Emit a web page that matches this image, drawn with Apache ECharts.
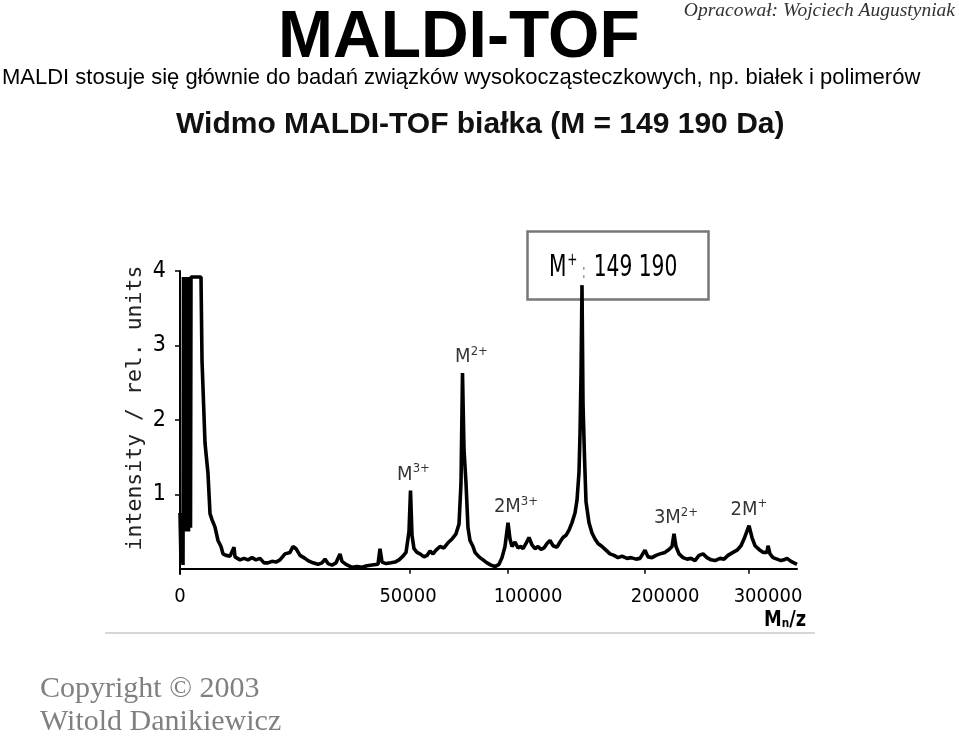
<!DOCTYPE html>
<html>
<head>
<meta charset="utf-8">
<script src="https://cdn.jsdelivr.net/npm/echarts@6/dist/echarts.min.js"></script>
<style>
  html, body { margin: 0; padding: 0; background: #fff; }
  #chart { width: 959px; height: 742px; }
</style>
</head>
<body>
<div id="chart"></div>
<script>
// flight time (arbitrary channels) vs. relative intensity
const flightTime = [0, 1, 2, 3, 3.5, 4.5, 5.5, 6.5, 7.5, 8.5, 9.5, 10.5, 11, 21, 22, 25, 28, 30, 32, 35, 38, 41, 43, 46, 50, 54, 55, 60, 64, 68, 72, 76, 80, 84, 88, 92, 96, 100, 105, 110, 113, 116, 120, 125, 128, 133, 138, 142, 145, 148, 152, 156, 160, 162, 166, 172, 177, 182, 187, 192, 198, 200, 202, 206, 211, 215, 219, 223, 226, 229, 230.5, 232, 234, 237, 240, 244, 247, 250, 253, 256, 260, 264, 268, 272, 276, 279, 281, 282.5, 284, 286, 288, 290, 293, 295, 299, 303, 307, 311, 315, 319, 322, 325, 328, 330, 332, 335, 338, 341, 343, 346, 349, 352, 355, 358, 361, 364, 367, 370, 373, 375, 377, 380, 383, 386, 389, 392, 395, 397, 399, 400, 401, 402, 403, 404.5, 406, 409, 412, 415, 418, 422, 426, 430, 434, 438, 442, 447, 451, 456, 460, 465, 468, 472, 476, 480, 485, 489, 492, 494, 496, 499, 503, 507, 511, 515, 519, 523, 527, 531, 535, 540, 544, 548, 553, 557, 561, 564, 569, 572, 575, 579, 583, 587, 588, 590, 593, 597, 601, 604, 607, 611, 614, 617];
const intensity = [0.75, 0.08, 0.7, 0.05, 3.92, 0.5, 3.92, 0.5, 3.92, 0.5, 3.92, 0.55, 3.92, 3.92, 2.8, 1.69, 1.28, 0.74, 0.66, 0.56, 0.38, 0.3, 0.2, 0.18, 0.17, 0.29, 0.16, 0.12, 0.14, 0.12, 0.15, 0.12, 0.14, 0.08, 0.08, 0.1, 0.09, 0.12, 0.2, 0.22, 0.3, 0.27, 0.18, 0.14, 0.11, 0.08, 0.06, 0.08, 0.13, 0.07, 0.05, 0.08, 0.2, 0.1, 0.06, 0.02, 0.03, 0.02, 0.04, 0.05, 0.06, 0.27, 0.09, 0.07, 0.08, 0.09, 0.12, 0.17, 0.22, 0.5, 1.05, 0.45, 0.27, 0.22, 0.2, 0.16, 0.18, 0.24, 0.2, 0.25, 0.3, 0.28, 0.35, 0.4, 0.47, 0.6, 1.15, 2.63, 1.6, 1.15, 0.55, 0.38, 0.3, 0.22, 0.16, 0.12, 0.08, 0.05, 0.03, 0.06, 0.15, 0.3, 0.62, 0.4, 0.3, 0.36, 0.28, 0.3, 0.27, 0.34, 0.42, 0.32, 0.27, 0.3, 0.26, 0.28, 0.34, 0.38, 0.31, 0.33, 0.29, 0.36, 0.42, 0.45, 0.52, 0.62, 0.75, 0.92, 1.3, 1.8, 2.6, 3.81, 2.22, 1.5, 0.9, 0.62, 0.48, 0.4, 0.34, 0.3, 0.25, 0.2, 0.18, 0.15, 0.17, 0.14, 0.15, 0.13, 0.14, 0.25, 0.16, 0.15, 0.18, 0.2, 0.22, 0.26, 0.3, 0.47, 0.3, 0.2, 0.15, 0.13, 0.14, 0.11, 0.18, 0.2, 0.15, 0.12, 0.11, 0.14, 0.13, 0.18, 0.22, 0.25, 0.31, 0.4, 0.58, 0.42, 0.31, 0.26, 0.22, 0.22, 0.31, 0.2, 0.15, 0.13, 0.11, 0.12, 0.14, 0.1, 0.08, 0.06];

// peaks and their names
const peakTime = [230.5, 282.5, 328, 402, 494, 569];
const peakIntensity = [1.05, 2.63, 0.62, 3.81, 0.47, 0.58];
const peakName = ['M|3+', 'M|2+', '2M|3+', '', '3M|2+', '2M|+'];
const peakLabelShift = [3, 9, 8, 0, 2, 0];

// axis ticks
const xTickPos = [230, 328, 465, 569];
const xLabelPos = [0, 228, 348, 485, 588];
const xLabelText = ['0', '50000', '100000', '200000', '300000'];
const yTicks = [1, 2, 3, 4];

const narrow = "'DejaVu Sans Condensed', 'Liberation Sans', sans-serif";

const chart = echarts.init(document.getElementById('chart'));

const option = {
  animation: false,
  backgroundColor: '#fff',
  grid: { left: 180, right: 162, top: 271, bottom: 168 },
  xAxis: {
    type: 'value',
    min: 0,
    max: 617,
    axisLine: { lineStyle: { color: '#000', width: 2 } },
    axisTick: { customValues: xTickPos, length: 5, lineStyle: { color: '#000', width: 1.5 } },
    axisLabel: {
      customValues: xLabelPos,
      margin: 13,
      color: '#000',
      fontFamily: narrow,
      fontSize: 20,
      formatter: (v) => xLabelText[xLabelPos.indexOf(v)]
    },
    splitLine: { show: false }
  },
  yAxis: {
    type: 'value',
    min: -0.07,
    max: 4,
    axisLine: { show: true, lineStyle: { color: '#000', width: 2 } },
    axisTick: { show: true, customValues: yTicks, length: 5, lineStyle: { color: '#000', width: 1.5 } },
    axisLabel: { customValues: yTicks, margin: 14, color: '#000', fontFamily: narrow, fontSize: 23 },
    splitLine: { show: false }
  },
  series: [
    {
      type: 'line',
      data: flightTime.map((t, i) => [t, intensity[i]]),
      showSymbol: false,
      lineStyle: { color: '#000', width: 3.6 }
    },
    {
      type: 'scatter',
      symbolSize: 0,
      data: peakTime.map((t, i) => ({
        value: [t, peakIntensity[i]],
        label: { offset: [peakLabelShift[i], 0] }
      })),
      label: {
        show: true,
        position: 'top',
        distance: 6,
        formatter: (p) => {
          const s = peakName[p.dataIndex];
          if (!s) return '';
          const [a, b] = s.split('|');
          return '{m|' + a + '}{s|' + b + '}';
        },
        rich: {
          m: { fontFamily: narrow, fontSize: 20, color: '#000', lineHeight: 22, verticalAlign: 'bottom' },
          s: { fontFamily: narrow, fontSize: 13, color: '#000', lineHeight: 13, verticalAlign: 'top' }
        }
      }
    }
  ],
  graphic: [
    {
      type: 'text', left: 278, top: 6,
      style: { text: 'MALDI-TOF', font: "bold 66px 'Liberation Sans', sans-serif", fill: '#000' }
    },
    {
      type: 'text', right: 4, top: 1,
      style: { text: 'Opracował: Wojciech Augustyniak', font: "italic 19.5px 'Liberation Serif', serif", fill: '#333' }
    },
    {
      type: 'text', left: 2, top: 67,
      style: { text: 'MALDI stosuje się głównie do badań związków wysokocząsteczkowych, np. białek i polimerów', font: "22px 'Liberation Sans', sans-serif", fill: '#000' }
    },
    {
      type: 'text', left: 176, top: 110,
      style: { text: 'Widmo MALDI-TOF białka (M = 149 190 Da)', font: "bold 30px 'Liberation Sans', sans-serif", fill: '#111' }
    },
    {
      type: 'text', x: 135, y: 408, rotation: Math.PI / 2,
      style: {
        text: 'intensity / rel. units', font: "21.5px 'DejaVu Sans Mono', monospace", fill: '#222',
        align: 'center', verticalAlign: 'middle'
      }
    },
    {
      type: 'rect', left: 525, top: 229,
      shape: { width: 181, height: 68 },
      style: { fill: 'none', stroke: '#777', lineWidth: 2.5 }
    },
    {
      type: 'text', x: 549, y: 251, scaleX: 0.75,
      style: {
        text: '{m|M}{s|+}{c|:}{n|149 190}',
        rich: {
          m: { fontFamily: narrow, fontSize: 30, fill: '#000', lineHeight: 32, verticalAlign: 'bottom' },
          s: { fontFamily: narrow, fontSize: 18, fill: '#000', lineHeight: 18, verticalAlign: 'top', padding: [0, 5, 0, 1] },
          c: { fontFamily: narrow, fontSize: 22, fill: '#999', lineHeight: 28, verticalAlign: 'bottom', padding: [0, 10, 0, 0] },
          n: { fontFamily: narrow, fontSize: 30, fill: '#000', lineHeight: 32, verticalAlign: 'bottom' }
        }
      }
    },
    {
      type: 'text', x: 764, y: 608, scaleX: 0.9,
      style: {
        text: '{m|M}{n|n}{z|/z}',
        rich: {
          m: { fontFamily: narrow, fontSize: 22, fontWeight: 'bold', fill: '#000', lineHeight: 24 },
          n: { fontFamily: narrow, fontSize: 13, fontWeight: 'bold', fill: '#000', lineHeight: 24, padding: [8, 0, 0, 0] },
          z: { fontFamily: narrow, fontSize: 22, fontWeight: 'bold', fill: '#000', lineHeight: 24 }
        }
      }
    },
    {
      type: 'line',
      shape: { x1: 105, y1: 633, x2: 815, y2: 633 },
      style: { stroke: '#c8c8c8', lineWidth: 1.5 }
    },
    {
      type: 'text', left: 40, top: 674,
      style: { text: 'Copyright © 2003', font: "30px 'Liberation Serif', serif", fill: '#808080' }
    },
    {
      type: 'text', left: 40, top: 707,
      style: { text: 'Witold Danikiewicz', font: "30px 'Liberation Serif', serif", fill: '#808080' }
    }
  ]
};

chart.setOption(option);
</script>
</body>
</html>
